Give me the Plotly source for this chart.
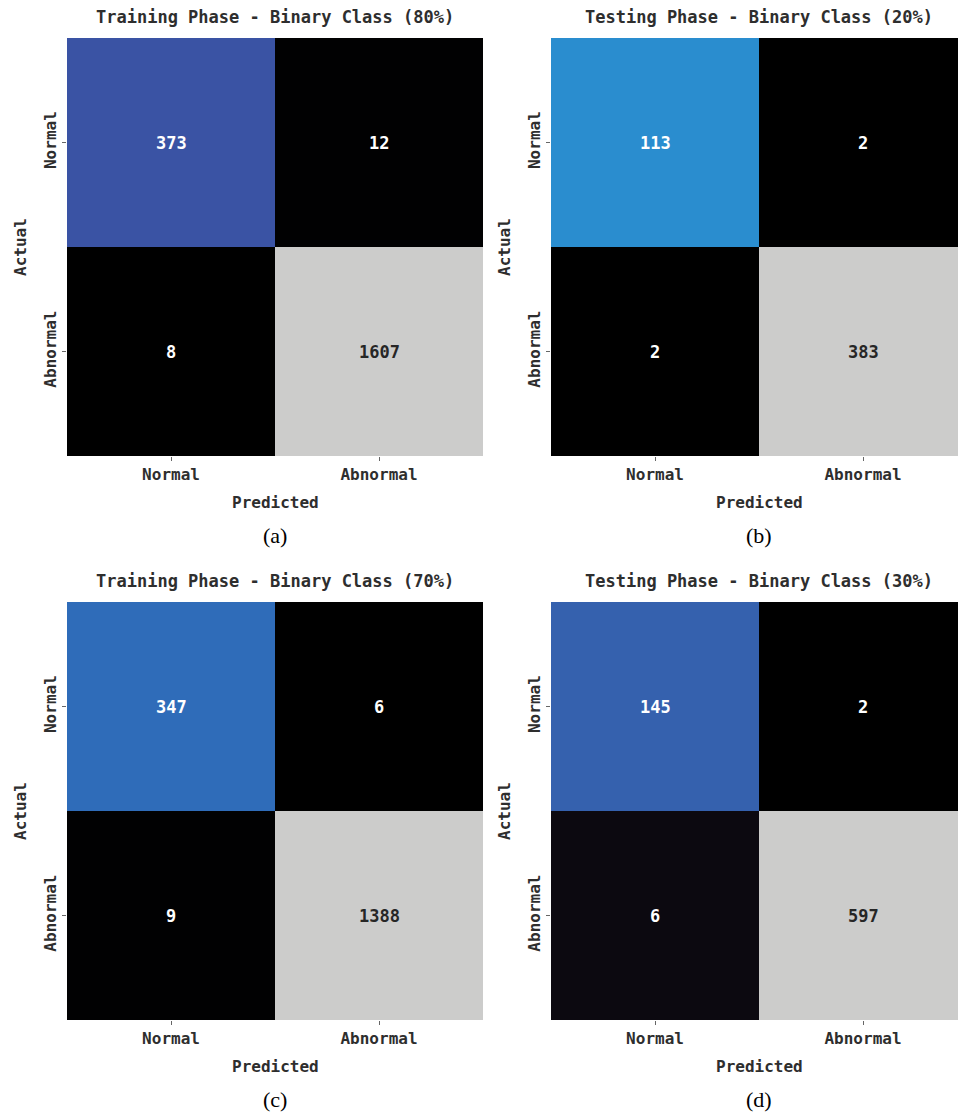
import plotly.graph_objects as go

W, H = 958, 1113

classes = ["Normal", "Abnormal"]
cm_a = [[373, 12], [8, 1607]]
cm_b = [[113, 2], [2, 383]]
cm_c = [[347, 6], [9, 1388]]
cm_d = [[145, 2], [6, 597]]
matrices = [cm_a, cm_b, cm_c, cm_d]
titles = [
    "Training Phase - Binary Class (80%)",
    "Testing Phase - Binary Class (20%)",
    "Training Phase - Binary Class (70%)",
    "Testing Phase - Binary Class (30%)",
]
captions = ["(a)", "(b)", "(c)", "(d)"]

colorscale = [
    [0.0, "#000000"],
    [0.004, "#020203"],
    [0.0067, "#0c0910"],
    [0.228, "#3a53a4"],
    [0.24, "#3560ad"],
    [0.247, "#2f6cb9"],
    [0.291, "#2a8dcf"],
    [1.0, "#cccccb"],
]

MONO = "DejaVu Sans Mono"
SERIF = "Liberation Serif"
TXT = "#2e2e2e"

# panel layout in pixels: left, top of heatmap
boxes = [(67, 38), (551, 38), (67, 602), (551, 602)]
CW, CH = 208, 209

fig = go.Figure()
annotations = []

for i, (cm, (left, top)) in enumerate(zip(matrices, boxes)):
    k = i + 1
    xa = "x" if k == 1 else f"x{k}"
    ya = "y" if k == 1 else f"y{k}"
    right = min(left + 2 * CW, W)
    xd = [left / W, right / W]
    yd = [1 - (top + 2 * CH) / H, 1 - top / H]
    xr = [-0.5, -0.5 + (right - left) / CW]
    flat = [v for row in cm for v in row]
    zmin, zmax = min(flat), max(flat)

    fig.add_trace(go.Heatmap(
        z=cm, x=[0, 1], y=[0, 1], colorscale=colorscale,
        zmin=zmin, zmax=zmax, showscale=False, hoverinfo="z",
        xaxis=xa, yaxis=ya,
    ))

    axis_common = dict(
        tickvals=[0, 1], ticktext=classes, ticks="outside", ticklen=4,
        tickcolor="#666666", showgrid=False, zeroline=False, showline=False,
        tickfont=dict(family=MONO, size=16, color=TXT, weight="bold"),
    )
    fig.layout[("xaxis" if k == 1 else f"xaxis{k}")] = dict(
        domain=xd, range=xr, anchor=ya, **axis_common
    )
    fig.layout[("yaxis" if k == 1 else f"yaxis{k}")] = dict(
        domain=yd, range=[1.5, -0.5], anchor=xa, tickangle=-90, **axis_common
    )

    bottom = top + 2 * CH
    # title
    annotations.append(dict(
        text=titles[i], xref=xa, x=0.5, yref="paper", y=1 - (top - 21) / H,
        showarrow=False, xanchor="center", yanchor="middle",
        font=dict(family=MONO, size=17, color=TXT, weight="bold"),
    ))
    # x axis title
    annotations.append(dict(
        text="Predicted", xref=xa, x=0.5, yref="paper", y=1 - (bottom + 46) / H,
        showarrow=False, xanchor="center", yanchor="middle",
        font=dict(family=MONO, size=16, color=TXT, weight="bold"),
    ))
    # y axis title
    annotations.append(dict(
        text="Actual", xref="paper", x=(left - 47) / W, yref=ya, y=0.5,
        showarrow=False, xanchor="center", yanchor="middle", textangle=-90,
        font=dict(family=MONO, size=16, color=TXT, weight="bold"),
    ))
    # caption
    annotations.append(dict(
        text=captions[i], xref=xa, x=0.5, yref="paper", y=1 - (bottom + 79) / H,
        showarrow=False, xanchor="center", yanchor="middle",
        font=dict(family=SERIF, size=22, color="#000000"),
    ))
    # cell values
    for r in range(2):
        for c in range(2):
            v = cm[r][c]
            t = (v - zmin) / (zmax - zmin)
            annotations.append(dict(
                text=str(v), xref=xa, x=c, yref=ya, y=r, showarrow=False,
                font=dict(family=MONO, size=17, weight="bold",
                          color="#262626" if t > 0.6 else "#ffffff"),
            ))

fig.update_layout(
    width=W, height=H, margin=dict(l=0, r=0, t=0, b=0),
    paper_bgcolor="white", plot_bgcolor="white",
    annotations=annotations, showlegend=False,
)

fig.write_html("out.html", config={"displayModeBar": False},
               post_script="document.body.style.margin='0';")
